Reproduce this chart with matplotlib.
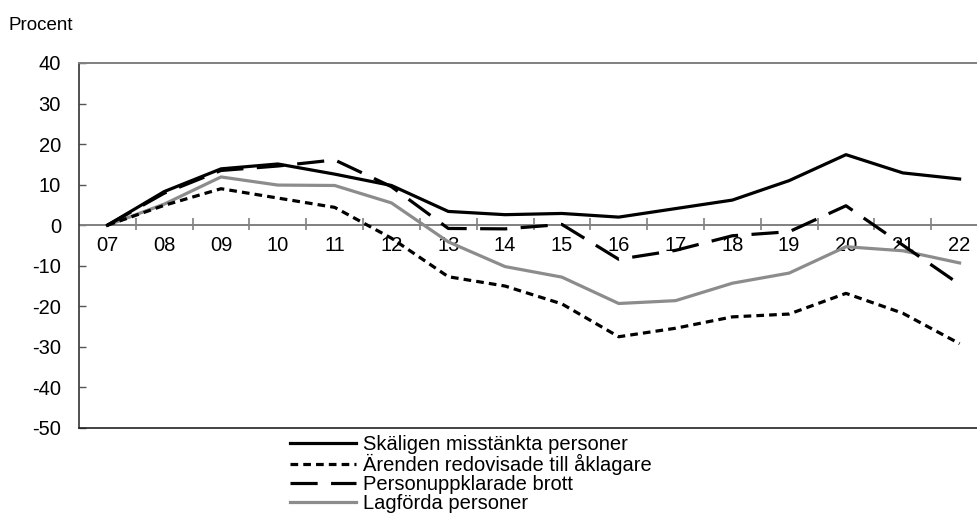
import numpy as np
import matplotlib.pyplot as plt

plt.rcParams['font.family'] = ['Liberation Sans', 'DejaVu Sans']
plt.rcParams['axes.unicode_minus'] = False

years = ["07", "08", "09", "10", "11", "12", "13", "14", "15", "16", "17", "18", "19", "20", "21", "22"]
skaligen = [0, 8.3, 13.9, 15.1, 12.6, 9.8, 3.4, 2.6, 2.9, 2.0, 4.1, 6.2, 11.0, 17.4, 12.9, 11.4]
arenden = [0, 4.9, 9.0, 6.7, 4.4, -3.2, -12.7, -15.0, -19.4, -27.5, -25.4, -22.6, -21.9, -16.8, -21.7, -29.2]
personupp = [0, 7.9, 13.5, 14.6, 16.1, 9.5, -0.8, -0.9, 0.2, -8.4, -6.2, -2.6, -1.6, 4.8, -4.9, -14.6]
lagforda = [0, 5.2, 11.9, 9.9, 9.8, 5.5, -4.1, -10.2, -12.8, -19.3, -18.6, -14.3, -11.8, -5.3, -6.3, -9.3]
labels = ["Skäligen misstänkta personer", "Ärenden redovisade till åklagare",
          "Personuppklarade brott", "Lagförda personer"]

W, H = 977, 529
FS = 14.5
fig = plt.figure(figsize=(W / 100, H / 100), dpi=100)
ax = fig.add_axes([79 / W, 1 - 428 / H, (988 - 79) / W, (428 - 63) / H])

x = np.arange(len(years))
gray = "#8c8c8c"
ax.plot(x, skaligen, color="black", lw=2.3, label=labels[0], zorder=5)
ax.plot(x, arenden, color="black", lw=2.3, ls=(0, (2.4, 1.6)), label=labels[1], zorder=5)
ax.plot(x, personupp, color="black", lw=2.3, ls=(0, (8.5, 4.2)), label=labels[2], zorder=5)
ax.plot(x, lagforda, color=gray, lw=2.3, label=labels[3], zorder=4)

ax.set_xlim(-0.5, len(years) - 0.5)
ax.set_ylim(-50, 40)
ax.set_yticks(np.arange(-50, 41, 10))
ax.set_xticks([])
ax.tick_params(axis="y", direction="in", length=5, width=1, color="#555555",
               labelsize=FS, pad=13)

# zero line with category tick marks
ax.axhline(0, color="#808080", lw=1.4, zorder=2)
ax.vlines(x[:-1] + 0.5, -1.3, 1.7, color="#808080", lw=1.2, zorder=2)
for xi, lab in zip(x, years):
    ax.text(xi, -2.6, lab, ha="center", va="top", fontsize=FS, zorder=3)

ax.spines["right"].set_visible(False)
ax.spines["top"].set_color("#808080")
ax.spines["top"].set_linewidth(1.4)
ax.spines["left"].set_color("#333333")
ax.spines["bottom"].set_color("#222222")
ax.spines["left"].set_linewidth(1.2)
ax.spines["bottom"].set_linewidth(1.2)

fig.text(9 / W, 1 - 26 / H, "Procent", fontsize=13.5, va="center", ha="left")

h, l = ax.get_legend_handles_labels()
fig.legend(h, l, loc="upper left", bbox_to_anchor=(290 / W, 1 - 435 / H),
           frameon=False, fontsize=FS, handlelength=3.3, handletextpad=0.33,
           borderpad=0, borderaxespad=0, labelspacing=0.0)

fig.savefig("out.png", dpi=100)
